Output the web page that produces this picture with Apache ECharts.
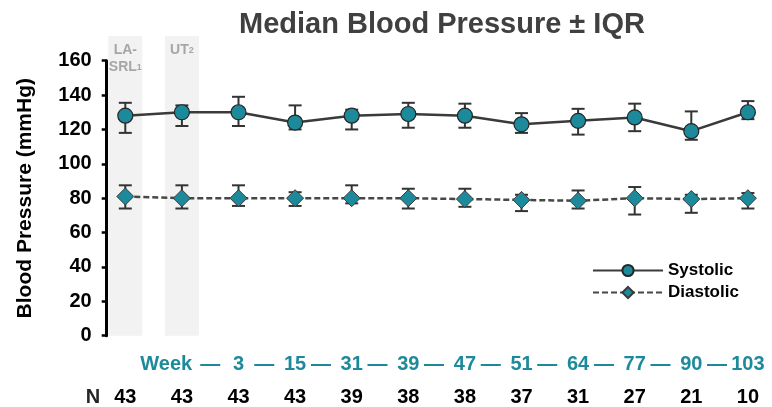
<!DOCTYPE html>
<html>
<head>
<meta charset="utf-8">
<script src="https://cdn.jsdelivr.net/npm/echarts@6/dist/echarts.min.js"></script>
<style>
  html, body { margin: 0; padding: 0; background: #fff; }
  #chart { width: 772px; height: 407px; }
</style>
</head>
<body>
<div id="chart"></div>
<script>
// ---------- DATA ----------
const categories = ['LA-SRL', 'UT', '3', '15', '31', '39', '47', '51', '64', '77', '90', '103'];
const weekLabels = ['', '', '3', '15', '31', '39', '47', '51', '64', '77', '90', '103'];
const nValues = [43, 43, 43, 43, 39, 38, 38, 37, 31, 27, 21, 10];
const bandLabels = ['LA-\nSRL{s|1}', 'UT{s|2}'];

const sysMedian = [128, 130, 130, 124, 128, 129, 128, 123, 125, 127, 119, 130];
const sysQ1     = [118, 122, 122, 120, 120, 121, 121, 118, 117, 119, 114, 126];
const sysQ3     = [135.5, 134, 139, 134, 131.5, 135.5, 135, 129.5, 132, 135, 130.5, 136.5];

const diaMedian = [81, 80, 80, 80, 80, 80, 79.5, 79, 78.5, 80, 79.5, 80];
const diaQ1     = [74, 74, 75.5, 75.5, 77, 74, 75, 72.5, 74, 70.5, 71.5, 74];
const diaQ3     = [87.5, 87.5, 87.5, 83.5, 87.5, 85.5, 85.5, 82, 84.5, 86.5, 82, 83];

const yMin = 0, yMax = 160, yStep = 20;

// ---------- STYLE ----------
const FONT = 'Liberation Sans';
const TEAL = '#1d8a9c';
const BAND_TOP = 174.4;   // band height above axis max (style)
const slotCount = categories.length + 1;

const chart = echarts.init(document.getElementById('chart'), null, { renderer: 'canvas' });

function errorBarRender(params, api) {
  const x = api.value(0);
  const lo = api.coord([x, api.value(1)]);
  const hi = api.coord([x, api.value(2)]);
  const hw = 6.5;
  const st = { stroke: '#333333', lineWidth: 2 };
  return {
    type: 'group',
    children: [
      { type: 'line', shape: { x1: hi[0], y1: hi[1], x2: lo[0], y2: lo[1] }, style: st },
      { type: 'line', shape: { x1: hi[0] - hw, y1: hi[1], x2: hi[0] + hw, y2: hi[1] }, style: st },
      { type: 'line', shape: { x1: lo[0] - hw, y1: lo[1], x2: lo[0] + hw, y2: lo[1] }, style: st }
    ]
  };
}

const rowRich = {
  w:  { color: TEAL, fontSize: 20, fontWeight: 'bold', fontFamily: FONT, lineHeight: 33 },
  d:  { color: TEAL, fontSize: 20, fontWeight: 'bold', fontFamily: FONT, lineHeight: 33, padding: [0, 5, 0, 0] },
  n:  { color: '#000', fontSize: 20, fontWeight: 'bold', fontFamily: FONT, lineHeight: 33 },
  nn: { color: '#262626', fontSize: 20, fontWeight: 'bold', fontFamily: FONT, lineHeight: 33, padding: [0, 8, 0, 0] },
  wk: { color: TEAL, fontSize: 20, fontWeight: 'bold', fontFamily: FONT, lineHeight: 33, width: 56, align: 'right', padding: [0, 6, 0, 0] },
  p:  { color: TEAL, fontSize: 20, fontWeight: 'bold', fontFamily: FONT, lineHeight: 33, width: 56, padding: [0, 6, 0, 0] }
};

const option = {
  animation: false,
  backgroundColor: '#ffffff',
  title: {
    text: 'Median Blood Pressure ± IQR',
    left: 234,
    top: 5,
    textStyle: { fontFamily: FONT, fontSize: 29, fontWeight: 'bold', color: '#404040' }
  },
  legend: {
    orient: 'vertical',
    left: 587,
    top: 257,
    itemWidth: 70,
    itemHeight: 14,
    itemGap: 5,
    data: ['Systolic', 'Diastolic'],
    textStyle: { fontFamily: FONT, fontSize: 17, fontWeight: 'bold', color: '#000' }
  },
  grid: { left: 97, top: 60.7, width: 679.2, height: 275, outerBoundsMode: 'none', containLabel: false },
  xAxis: [
    {
      type: 'category',
      data: categories,
      boundaryGap: true,
      axisLine: { show: false },
      axisTick: { show: false },
      axisLabel: {
        interval: 0,
        margin: 12,
        formatter: (v, i) => `{w|${weekLabels[i] || ' '}}\n{n|${nValues[i]}}`,
        rich: rowRich
      }
    },
    {
      type: 'category',
      position: 'bottom',
      data: Array.from({ length: slotCount }, (_, i) => String(i)),
      boundaryGap: false,
      axisLine: { show: false },
      axisTick: { show: false },
      splitLine: { show: false },
      axisLabel: {
        interval: 0,
        margin: 12,
        formatter: (v, i) => {
          if (i === 0) return '{w| }\n{nn|N}';
          if (i === 2) return '{wk|Week}{w|—}{p| }\n{n| }';
          if (i > 2 && i < slotCount - 1) return '{d|—}\n{n| }';
          return '{w| }\n{n| }';
        },
        rich: rowRich
      }
    }
  ],
  yAxis: {
    type: 'value',
    min: yMin,
    max: yMax,
    interval: yStep,
    offset: -9.7,
    name: 'Blood Pressure (mmHg)',
    nameLocation: 'middle',
    nameGap: 71,
    nameTextStyle: { fontFamily: FONT, fontSize: 21, fontWeight: 'bold', color: '#000' },
    axisLine: { show: true, lineStyle: { color: '#000', width: 3 } },
    axisTick: { show: true, length: 5, lineStyle: { color: '#000', width: 2.5 } },
    axisLabel: { fontFamily: FONT, fontSize: 20, fontWeight: 'bold', color: '#000', margin: 15 },
    splitLine: { show: false }
  },
  series: [
    {
      name: 'band',
      type: 'bar',
      xAxisIndex: 0,
      barWidth: 34,
      clip: false,
      silent: true,
      z: 0,
      itemStyle: { color: '#f2f2f2' },
      label: {
        show: true,
        position: 'insideTop',
        distance: 6,
        color: '#a6a6a6',
        fontFamily: FONT,
        fontSize: 14,
        fontWeight: 'bold',
        lineHeight: 17,
        rich: { s: { fontSize: 9, fontWeight: 'bold', color: '#a6a6a6', fontFamily: FONT } }
      },
      data: categories.map((c, i) => i < bandLabels.length
        ? { value: BAND_TOP, label: { formatter: bandLabels[i] } }
        : '-')
    },
    {
      name: 'sysErr',
      type: 'custom',
      xAxisIndex: 0,
      renderItem: errorBarRender,
      encode: { x: 0, y: [1, 2] },
      z: 3,
      silent: true,
      data: sysQ1.map((v, i) => [i, v, sysQ3[i]])
    },
    {
      name: 'diaErr',
      type: 'custom',
      xAxisIndex: 0,
      renderItem: errorBarRender,
      encode: { x: 0, y: [1, 2] },
      z: 3,
      silent: true,
      data: diaQ1.map((v, i) => [i, v, diaQ3[i]])
    },
    {
      name: 'Systolic',
      type: 'line',
      xAxisIndex: 0,
      data: sysMedian,
      symbol: 'circle',
      symbolSize: 15,
      z: 5,
      lineStyle: { color: '#3a3a3a', width: 2.5 },
      itemStyle: { color: TEAL, borderColor: '#262626', borderWidth: 1.2 }
    },
    {
      name: 'Diastolic',
      type: 'line',
      xAxisIndex: 0,
      data: diaMedian,
      symbol: 'diamond',
      symbolSize: 17,
      z: 5,
      lineStyle: { color: '#474747', width: 2.5, type: [6, 3] },
      itemStyle: { color: TEAL, borderColor: '#3a3a3a', borderWidth: 1 }
    }
  ]
};

chart.setOption(option);
</script>
</body>
</html>
